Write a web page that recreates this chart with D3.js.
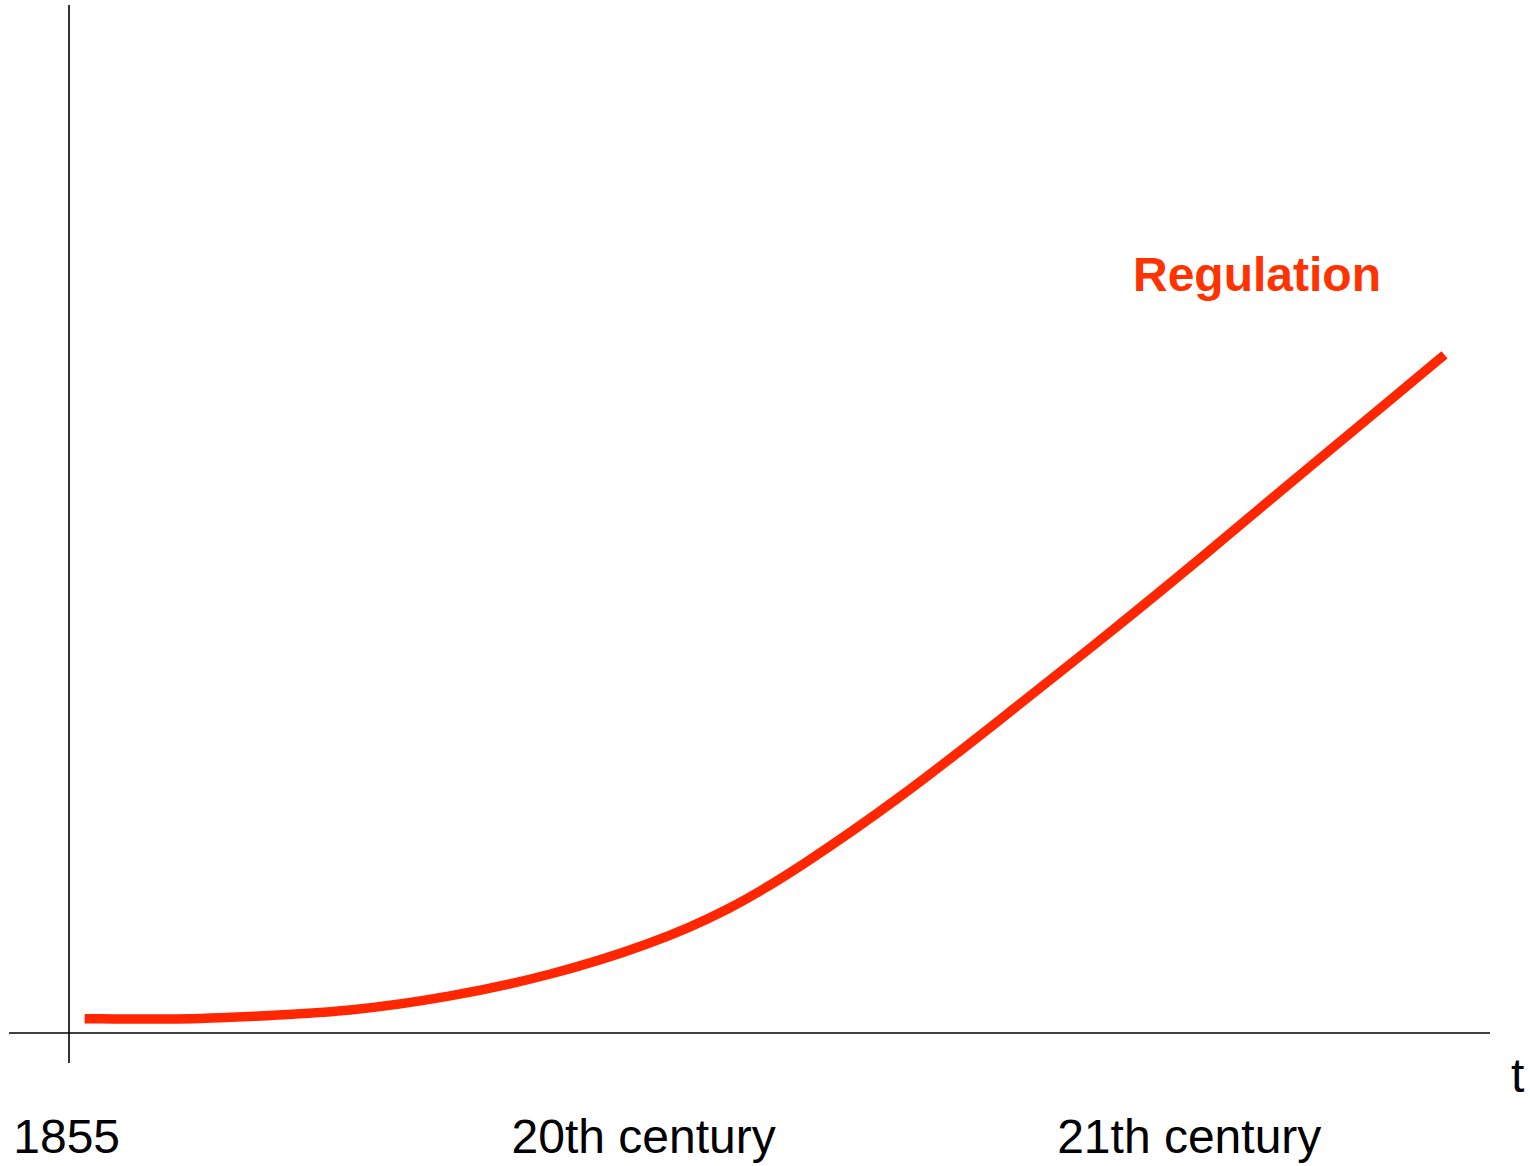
<!DOCTYPE html>
<html>
<head>
<meta charset="utf-8">
<script src="https://cdn.jsdelivr.net/npm/d3@7"></script>
<style>
  html, body { margin: 0; padding: 0; background: #fff; }
  svg { display: block; font-family: "Liberation Sans", Arial, sans-serif; }
</style>
</head>
<body>
<svg></svg>
<script>
// curve (abstract units, 0..100 on both axes)
let curveX = [1.1, 7.8, 12.7, 19.8, 26.8, 33.9, 40.9, 46.5, 51.4, 58.5, 65.5, 72.6, 79.6, 86.6, 93.7, 96.8]
let curveY = [1.4, 1.3, 1.6, 2.1, 3.5, 5.6, 8.6, 12.0, 16.1, 22.9, 30.5, 38.3, 46.2, 54.4, 62.5, 66.1]

let tickPos = [-0.2, 40.4, 78.8]
let tickLabels = ['1855', '20th century', '21th century']
let seriesName = 'Regulation'

let width = 1530
let height = 1166
let padLeft = 69
let padRight = 1490
let padTop = 7
let axisY = 1033

let svg = d3.select('svg')
    .attr('width', width)
    .attr('height', height)

let xScale = d3.scaleLinear().domain([0, 100]).range([padLeft, padRight])
let yScale = d3.scaleLinear().domain([0, 100]).range([axisY, padTop])

// axes lines
svg.append('line')
    .attr('x1', 9).attr('x2', padRight)
    .attr('y1', axisY).attr('y2', axisY)
    .attr('stroke', '#000').attr('stroke-width', 1.6)

svg.append('line')
    .attr('x1', padLeft).attr('x2', padLeft)
    .attr('y1', padTop - 2).attr('y2', 1063)
    .attr('stroke', '#000').attr('stroke-width', 1.6)

// tick labels under the axis
let xAxis = d3.axisBottom(xScale)
    .tickValues(tickPos)
    .tickFormat((d, i) => tickLabels[i])
    .tickSize(0)

let gx = svg.append('g')
    .attr('transform', 'translate(0,' + axisY + ')')
    .call(xAxis)
gx.select('.domain').remove()
gx.selectAll('text')
    .attr('y', 0)
    .attr('dy', 0)
    .attr('transform', 'translate(0,120)')
    .style('font-size', '48px')
    .style('font-family', '"Liberation Sans", Arial, sans-serif')
    .attr('fill', '#000')

svg.append('text')
    .attr('x', 1511)
    .attr('y', 1092)
    .style('font-size', '48px')
    .text('t')

// the curve
let points = curveX.map((x, i) => [x, curveY[i]])
let line = d3.line()
    .x(d => xScale(d[0]))
    .y(d => yScale(d[1]))
    .curve(d3.curveBasis)

svg.append('path')
    .datum(points)
    .attr('d', line)
    .attr('fill', 'none')
    .attr('stroke', '#ff2600')
    .attr('stroke-width', 9.5)

svg.append('text')
    .attr('x', 1133)
    .attr('y', 291)
    .style('font-size', '48px')
    .style('font-weight', 'bold')
    .attr('fill', '#ff3300')
    .text(seriesName)
</script>
</body>
</html>
